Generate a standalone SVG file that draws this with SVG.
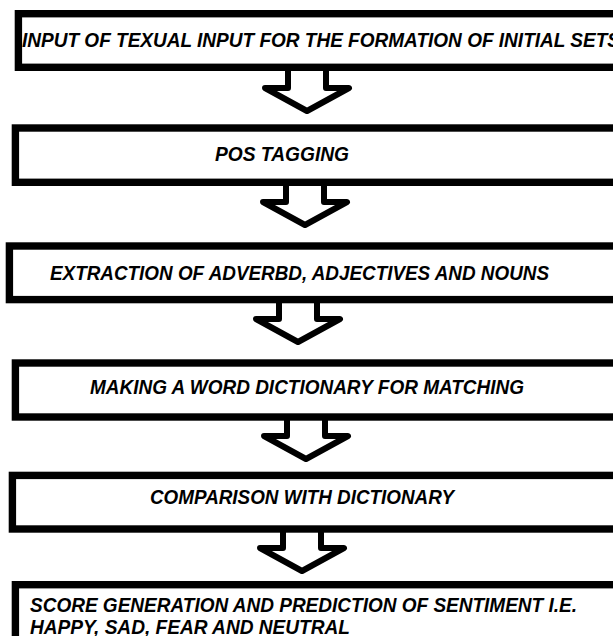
<svg xmlns="http://www.w3.org/2000/svg" width="613" height="636" viewBox="0 0 613 636">
<style>
.box{fill:#fff;stroke:#000;stroke-width:7.4}
.arr{fill:#fff;stroke:#000;stroke-width:6;stroke-linejoin:round}
.t{font-family:"Liberation Sans",Arial,sans-serif;font-weight:bold;font-style:italic;font-size:20px;fill:#000}
</style>
<rect width="613" height="636" fill="#fff"/>
<g id="connectors">
<path class="arr" d="M288,71 L288,88 L265,88 L307,111 L349,88 L326,88 L326,71"/>
<path class="arr" d="M286,186 L286,202 L263,202 L305,225 L347,202 L324,202 L324,186"/>
<path class="arr" d="M279,303 L279,319 L256,319 L298,342 L340,319 L317,319 L317,303"/>
<path class="arr" d="M287,420 L287,436 L264,436 L306,459 L348,436 L325,436 L325,420"/>
<path class="arr" d="M283,532 L283,548 L260,548 L302,571 L344,548 L321,548 L321,532"/>
</g>
<g id="n1">
<rect class="box" x="18.4" y="13.7" width="620" height="53.6"/>
<text class="t" x="22" y="47" textLength="598" lengthAdjust="spacingAndGlyphs">INPUT OF TEXUAL INPUT FOR THE FORMATION OF INITIAL SETS</text>
</g>
<g id="n2">
<rect class="box" x="15.4" y="128" width="620" height="54.3"/>
<text class="t" x="215" y="161" textLength="134" lengthAdjust="spacingAndGlyphs">POS TAGGING</text>
</g>
<g id="n3">
<rect class="box" x="9.4" y="246" width="620" height="53.6"/>
<text class="t" x="50" y="280" textLength="499" lengthAdjust="spacingAndGlyphs">EXTRACTION OF ADVERBD, ADJECTIVES AND NOUNS</text>
</g>
<g id="n4">
<rect class="box" x="15.4" y="363" width="620" height="54"/>
<text class="t" x="90" y="394" textLength="434" lengthAdjust="spacingAndGlyphs">MAKING A WORD DICTIONARY FOR MATCHING</text>
</g>
<g id="n5">
<rect class="box" x="12.4" y="475.4" width="620" height="53.6"/>
<text class="t" x="150" y="504" textLength="304" lengthAdjust="spacingAndGlyphs">COMPARISON WITH DICTIONARY</text>
</g>
<g id="n6">
<rect class="box" x="15.4" y="584.7" width="620" height="80"/>
<text class="t" x="30" y="612" textLength="547" lengthAdjust="spacingAndGlyphs">SCORE GENERATION AND PREDICTION OF SENTIMENT I.E.</text>
<text class="t" x="30" y="634" textLength="320" lengthAdjust="spacingAndGlyphs">HAPPY, SAD, FEAR AND NEUTRAL</text>
</g>
</svg>
